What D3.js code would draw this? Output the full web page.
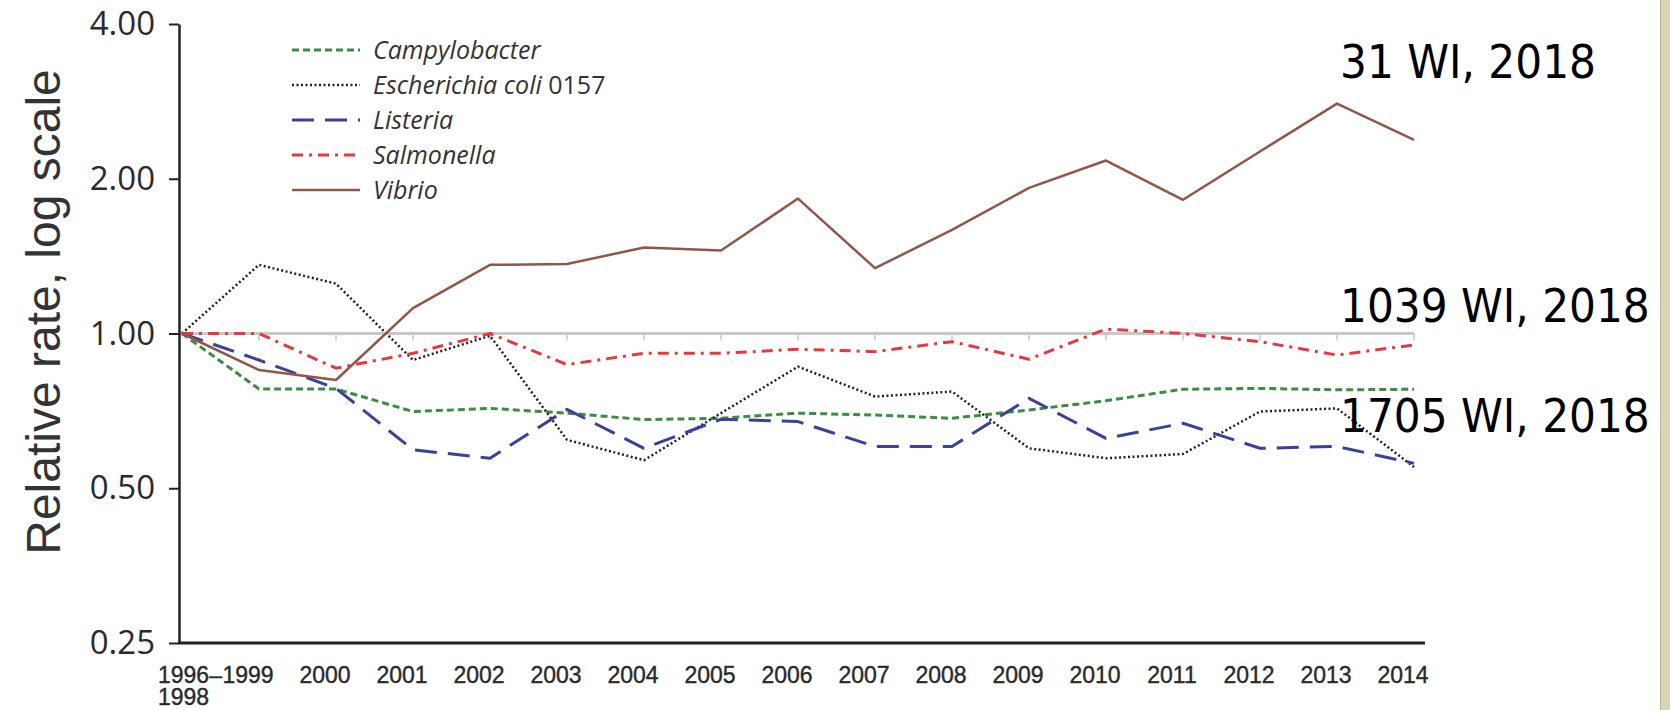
<!DOCTYPE html>
<html>
<head>
<meta charset="utf-8">
<script src="https://cdn.jsdelivr.net/npm/d3@7"></script>
<style>
  body { margin: 0; background: #fff; }
  svg { display: block; }
</style>
</head>
<body>
<div id="chart"></div>
<script>
// years on the x axis (first one is the 1996-1998 baseline)
const years = ["1996–1998", "1999", "2000", "2001", "2002", "2003", "2004", "2005", "2006",
  "2007", "2008", "2009", "2010", "2011", "2012", "2013", "2014"];

// relative rates vs baseline
const campylobacter = [1.00, 0.78, 0.78, 0.705, 0.715, 0.70, 0.68, 0.684, 0.70, 0.694, 0.684, 0.71, 0.74, 0.779, 0.782, 0.777, 0.779];
const ecoli         = [1.00, 1.36, 1.25, 0.888, 0.99, 0.621, 0.567, 0.70, 0.862, 0.754, 0.771, 0.598, 0.572, 0.583, 0.705, 0.715, 0.55];
const listeria      = [1.00, 0.888, 0.782, 0.594, 0.572, 0.712, 0.598, 0.681, 0.674, 0.603, 0.603, 0.748, 0.625, 0.669, 0.598, 0.603, 0.559];
const salmonella    = [1.00, 1.00, 0.856, 0.915, 1.00, 0.87, 0.915, 0.915, 0.932, 0.922, 0.964, 0.891, 1.02, 1.00, 0.964, 0.908, 0.95];
const vibrio        = [1.00, 0.849, 0.812, 1.12, 1.36, 1.365, 1.47, 1.45, 1.83, 1.34, 1.59, 1.92, 2.17, 1.82, 2.26, 2.80, 2.38];

const yTicks = [0.25, 0.5, 1, 2, 4];

const notes = [
  { text: "31 WI, 2018", y: 78 },
  { text: "1039 WI, 2018", y: 322 },
  { text: "1705 WI, 2018", y: 432 }
];

const series = [
  { name: "Campylobacter", values: campylobacter, color: "#3d8b45", dash: "7 4", width: 3 },
  { name: "Escherichia coli", extra: " 0157", values: ecoli, color: "#222", dash: "2 2.5", width: 2.5 },
  { name: "Listeria", values: listeria, color: "#3b4196", dash: "22 11", width: 3 },
  { name: "Salmonella", values: salmonella, color: "#e23a3f", dash: "11 6 3 6", width: 3 },
  { name: "Vibrio", values: vibrio, color: "#8f574c", dash: null, width: 2.5 }
];

const width = 1670, height = 710;
const axisX = 179, axisTop = 24, axisBottom = 643;

const svg = d3.select("#chart").append("svg")
    .attr("width", width)
    .attr("height", height);

const x = d3.scalePoint()
    .domain(years)
    .range([182, 1414]);

const y = d3.scaleLog()
    .base(2)
    .domain([0.25, 4])
    .range([axisBottom, axisTop]);

// right border stripe of the slide
svg.append("rect")
    .attr("x", 1660).attr("y", 0)
    .attr("width", 10).attr("height", height)
    .attr("fill", "#d9d5b6");
svg.append("line")
    .attr("x1", 1660.5).attr("x2", 1660.5)
    .attr("y1", 0).attr("y2", height)
    .attr("stroke", "#bdb894");

// reference line at 1.00
svg.append("line")
    .attr("x1", axisX).attr("x2", x(years[years.length - 1]))
    .attr("y1", y(1)).attr("y2", y(1))
    .attr("stroke", "#c8c8c8")
    .attr("stroke-width", 3);

svg.append("g")
    .selectAll("line")
    .data(years.slice(1))
    .join("line")
    .attr("x1", d => x(d)).attr("x2", d => x(d))
    .attr("y1", y(1)).attr("y2", y(1) + 7)
    .attr("stroke", "#c8c8c8")
    .attr("stroke-width", 1.5);

// y axis
const yAxis = svg.append("g")
    .attr("transform", `translate(${axisX},0)`)
    .call(d3.axisLeft(y)
      .tickValues(yTicks)
      .tickFormat(d3.format(".2f"))
      .tickSize(10)
      .tickSizeOuter(0)
      .tickPadding(14));

yAxis.select(".domain")
    .attr("stroke", "#222")
    .attr("stroke-width", 2.5);
yAxis.selectAll(".tick line")
    .attr("stroke", "#222")
    .attr("stroke-width", 2);
yAxis.selectAll(".tick text")
    .attr("fill", "#2a2a2a")
    .style("font-family", "'Open Sans', sans-serif")
    .style("font-size", "33px");

// x axis
svg.append("line")
    .attr("x1", axisX - 1).attr("x2", 1425)
    .attr("y1", axisBottom).attr("y2", axisBottom)
    .attr("stroke", "#222")
    .attr("stroke-width", 3);

const xLabels = svg.append("g")
    .style("font-family", "'Liberation Sans', Arial, sans-serif")
    .style("font-size", "23px")
    .attr("fill", "#2a2a2a")
    .attr("stroke", "#2a2a2a")
    .attr("stroke-width", 0.4);

xLabels.selectAll("text")
    .data(years.slice(1))
    .join("text")
    .attr("x", d => x(d) - 11)
    .attr("y", 683)
    .attr("text-anchor", "middle")
    .text(d => d);

const firstX = x(years[0]) - 24;
const firstLabel = xLabels.append("text")
    .attr("x", firstX)
    .attr("y", 683);
firstLabel.append("tspan").text(years[0].split("–")[0] + "–");
firstLabel.append("tspan")
    .attr("x", firstX)
    .attr("y", 705)
    .text(years[0].split("–")[1]);

// y axis title
svg.append("text")
    .attr("transform", "translate(60,312) rotate(-90)")
    .attr("text-anchor", "middle")
    .attr("fill", "#333")
    .style("font-family", "'Liberation Sans', Arial, sans-serif")
    .style("font-size", "48px")
    .text("Relative rate, log scale");

// series lines
const line = d3.line()
    .x((d, i) => x(years[i]))
    .y(d => y(d));

svg.append("g")
    .selectAll("path")
    .data(series)
    .join("path")
    .attr("d", d => line(d.values))
    .attr("fill", "none")
    .attr("stroke", d => d.color)
    .attr("stroke-width", d => d.width)
    .attr("stroke-dasharray", d => d.dash)
    .attr("stroke-linejoin", "round");

// legend
const legend = svg.append("g")
    .selectAll("g")
    .data(series)
    .join("g")
    .attr("transform", (d, i) => `translate(292,${50 + i * 35})`);

legend.append("line")
    .attr("x1", 0).attr("x2", 68)
    .attr("stroke", d => d.color)
    .attr("stroke-width", d => d.width)
    .attr("stroke-dasharray", d => d.dash);

const legendText = legend.append("text")
    .attr("x", 81)
    .attr("dy", "0.35em")
    .attr("fill", "#333")
    .style("font-family", "'Open Sans', sans-serif")
    .style("font-size", "25px");

legendText.append("tspan")
    .style("font-style", "italic")
    .text(d => d.name);
legendText.filter(d => d.extra).append("tspan")
    .text(d => d.extra);

// annotations on the right
svg.append("g")
    .selectAll("text")
    .data(notes)
    .join("text")
    .attr("x", 1340)
    .attr("y", d => d.y)
    .attr("fill", "#000")
    .style("font-family", "'DejaVu Sans', sans-serif")
    .style("font-stretch", "condensed")
    .style("font-size", "47px")
    .text(d => d.text);
</script>
</body>
</html>
